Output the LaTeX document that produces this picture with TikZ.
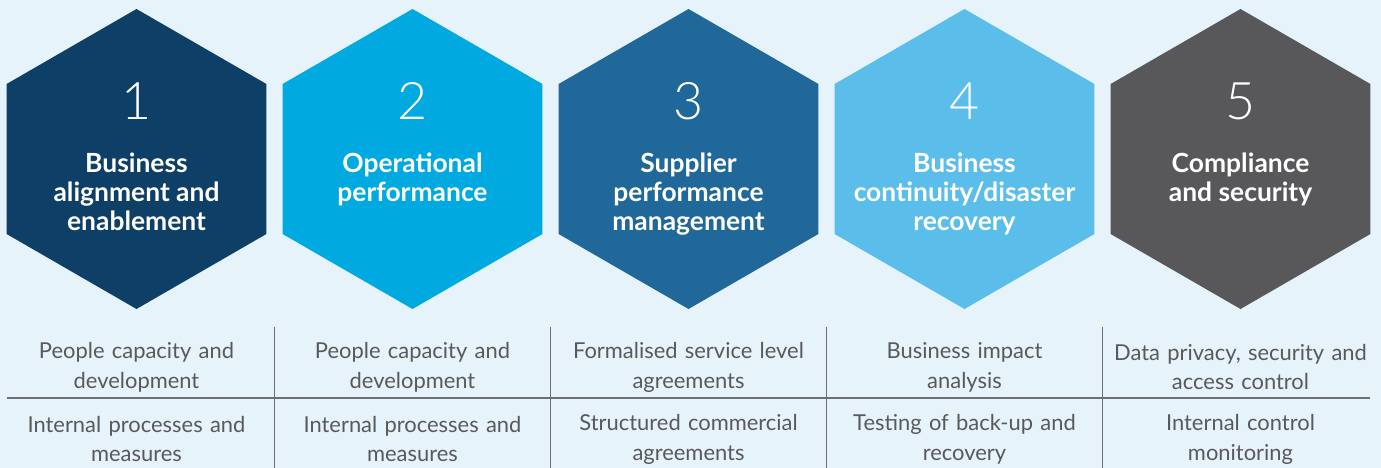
\documentclass[tikz,border=0pt]{standalone}
\usepackage{fontspec}
\setmainfont{Lato}
\newfontfamily\numfont{Lato Light}
\usetikzlibrary{shapes.geometric,positioning,calc}
\definecolor{pagebg}{HTML}{E6F3FB}
\definecolor{hexnavy}{HTML}{0E3F66}
\definecolor{hexcyan}{HTML}{00A9E0}
\definecolor{hexsteel}{HTML}{1F6899}
\definecolor{hexsky}{HTML}{5BBEEA}
\definecolor{hexslate}{HTML}{58585A}
\definecolor{itemgrey}{HTML}{58595B}
\definecolor{linegrey}{HTML}{6E6F71}
\tikzset{
    pillarhex/.style={regular polygon,regular polygon sides=6,shape border rotate=30,minimum size=300bp,inner sep=0pt,outer sep=0pt},
    pillarnum/.style={anchor=base,text=white,inner sep=0pt,font=\numfont\fontsize{52}{52}\selectfont},
    pillartitle/.style={anchor=north,text=white,inner sep=0pt,align=center,font=\bfseries\fontsize{26.5}{29}\selectfont},
    itemtext/.style={text=itemgrey,align=center,text width=270bp,inner sep=0pt,font=\fontsize{22}{30}\selectfont},
    gridline/.style={draw=linegrey,line width=1.4bp}
}

\begin{document}
\begin{tikzpicture}[x=1bp,y=-1bp]
    \fill[pagebg] (0,0) rectangle (1381,468);
    \useasboundingbox (0,0) rectangle (1381,468);
    \foreach \i/\hexcol/\title/\itemA/\itemB in {
        1/hexnavy/{Business\\alignment and\\enablement}/{People capacity and\\development}/{Internal processes and\\measures},
        2/hexcyan/{Operational\\performance}/{People capacity and\\development}/{Internal processes and\\measures},
        3/hexsteel/{Supplier\\performance\\management}/{Formalised service level\\agreements}/{Structured commercial\\agreements},
        4/hexsky/{Business\\continuity/disaster\\recovery}/{Business impact\\analysis}/{Testing of back-up and\\recovery},
        5/hexslate/{Compliance\\and security}/{Data privacy, security and\\access control}/{Internal control\\monitoring}}{
        \pgfmathsetmacro\cx{136.5+276*(\i-1)}
        \node[pillarhex,fill=\hexcol] (hex\i) at (\cx,159) {};
        \node[pillarnum] (num\i) at (\cx,120) {\i};
        \node[pillartitle] (title\i) at (\cx,153) {\title};
        \node[itemtext] (itema\i) at (\cx,367) {\itemA};
        \node[itemtext] (itemb\i) at (\cx,439) {\itemB};
    }
    \foreach \i [evaluate=\i as \j using int(\i+1)] in {1,...,4}{
        \coordinate (split\i) at ($(hex\i.east)!0.5!(hex\j.west)$);
        \draw[gridline] (split\i |- 0,327) -- (split\i |- 0,468);
    }
    \draw[gridline] (hex1.west |- 0,398) -- (hex5.east |- 0,398);
\end{tikzpicture}
\end{document}
